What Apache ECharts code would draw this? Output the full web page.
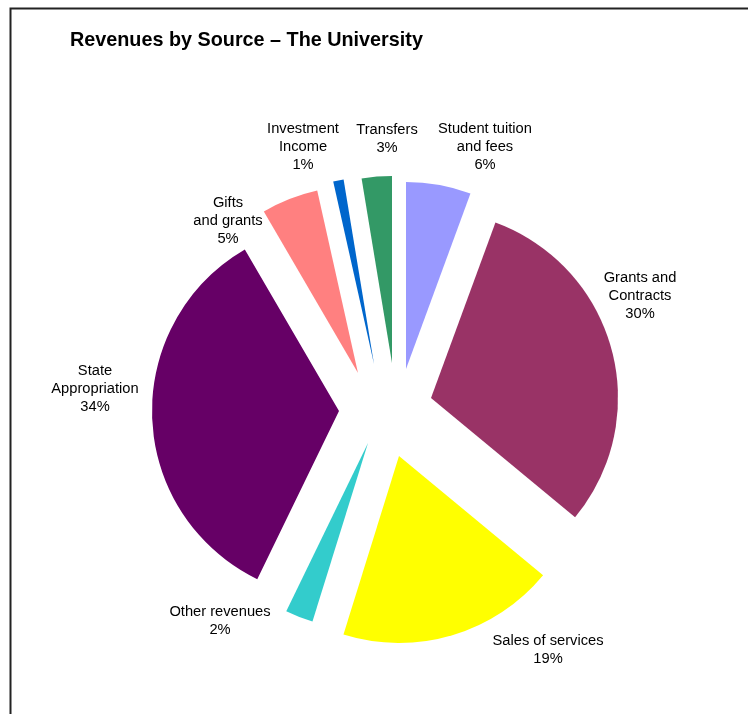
<!DOCTYPE html>
<html><head><meta charset="utf-8">
<script src="https://cdn.jsdelivr.net/npm/echarts@6/dist/echarts.min.js"></script>
<style>html,body{margin:0;padding:0;background:#fff}#c{width:748px;height:714px}</style>
</head><body><div id="c"></div>
<script>
// ---- data ----
const categories = ['Student tuition\nand fees', 'Grants and\nContracts', 'Sales of services', 'Other revenues',
  'State\nAppropriation', 'Gifts\nand grants', 'Investment\nIncome', 'Transfers'];
const shares = [5.6, 30.4, 18.8, 2.4, 34.4, 4.9, 0.9, 2.6];   // percent of total revenue
const colors = ['#9999FF', '#993366', '#FFFF00', '#33CCCC', '#660066', '#FF8080', '#0066CC', '#339966'];
const titleText = 'Revenues by Source \u2013 The University';

// ---- layout (pixels) ----
const pieCenter = [385, 410];
const pieRadius = 187;
const explode = [[21, -41], [46, -12], [14, 46], [-17, 33], [-46, 1], [-27, -37], [-11, -46], [7, -47]];
const labelCenters = [[485, 147], [640, 296], [548, 650], [220, 621], [95, 389], [228, 221], [303, 147], [387, 139]];
const FONT = '"Liberation Sans", Arial, sans-serif';

const chart = echarts.init(document.getElementById('c'), null, {renderer: 'canvas'});
const series = categories.map((_, i) => ({
  type: 'pie',
  radius: pieRadius,
  center: [pieCenter[0] + explode[i][0], pieCenter[1] + explode[i][1]],
  startAngle: 90,
  clockwise: true,
  avoidLabelOverlap: false,
  silent: true,
  animation: false,
  z: 2,
  data: categories.map((name, j) => ({
    name: name,
    value: shares[j],
    itemStyle: {color: j === i ? colors[j] : 'rgba(0,0,0,0)', borderWidth: 0},
    label: {show: j === i}
  })),
  label: {
    position: 'outside',
    formatter: p => p.name + '\n' + Math.round(p.value) + '%',
    fontSize: 14.7,
    fontFamily: FONT,
    color: '#000',
    lineHeight: 18,
    align: 'center'
  },
  labelLine: {show: false},
  labelLayout: p => ({x: labelCenters[p.dataIndex][0], y: labelCenters[p.dataIndex][1], align: 'center', verticalAlign: 'middle'}),
  emphasis: {disabled: true}
}));

chart.setOption({
  backgroundColor: '#fff',
  animation: false,
  title: {
    text: titleText, left: 70, top: 31, padding: 0,
    textStyle: {fontSize: 19.8, fontWeight: 'bold', fontFamily: FONT, color: '#000'}
  },
  graphic: [{
    type: 'rect', shape: {x: 10.5, y: 8.5, width: 900, height: 900},
    style: {fill: null, stroke: '#222', lineWidth: 2}, silent: true, z: 0
  }],
  series: series
});
</script></body></html>
